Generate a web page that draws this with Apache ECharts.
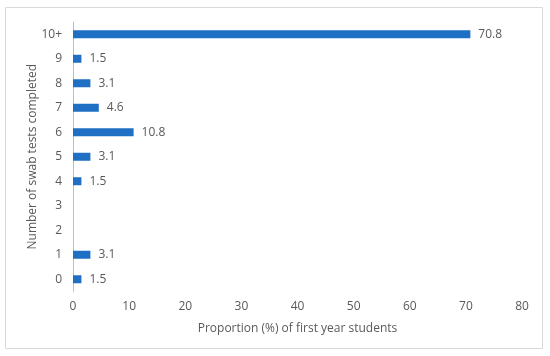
<!DOCTYPE html>
<html><head><meta charset="utf-8">
<script src="https://cdn.jsdelivr.net/npm/echarts@6/dist/echarts.min.js"></script>
<style>html,body{margin:0;padding:0;background:#fff}#c{width:550px;height:356px}</style>
</head><body><div id="c"></div>
<script>
const categories = ['0','1','2','3','4','5','6','7','8','9','10+'];
const values = [1.5, 3.1, null, null, 1.5, 3.1, 10.8, 4.6, 3.1, 1.5, 70.8];
const xTicks = {min: 0, max: 80, interval: 10};
const xTitle = 'Proportion (%) of first year students';
const yTitle = 'Number of swab tests completed';

const FONT = '"Open Sans", "Liberation Sans", sans-serif';
const chart = echarts.init(document.getElementById('c'), null, {renderer: 'canvas'});
chart.setOption({
  animation: false,
  backgroundColor: '#fff',
  graphic: [{
    type: 'rect', shape: {x: 5.5, y: 7.5, width: 537, height: 341},
    style: {fill: 'none', stroke: '#d9d9d9', lineWidth: 1}, silent: true
  }],
  grid: {left: 73, right: 28, top: 22, bottom: 64.5, containLabel: false},
  xAxis: {
    type: 'value', min: xTicks.min, max: xTicks.max, interval: xTicks.interval,
    axisLine: {show: false}, axisTick: {show: false}, splitLine: {show: false},
    axisLabel: {color: '#595959', fontFamily: FONT, fontSize: 12, margin: 9},
    name: xTitle, nameLocation: 'middle', nameGap: 31, nameMoveOverlap: false,
    nameTextStyle: {color: '#595959', fontFamily: FONT, fontSize: 12}
  },
  yAxis: {
    type: 'category', data: categories,
    axisLine: {show: true, lineStyle: {color: '#bfbfbf', width: 1}},
    axisTick: {show: false},
    axisLabel: {color: '#595959', fontFamily: FONT, fontSize: 12, margin: 11},
    name: yTitle, nameLocation: 'middle', nameGap: 34, nameMoveOverlap: false,
    nameTextStyle: {color: '#595959', fontFamily: FONT, fontSize: 12}
  },
  series: [{
    type: 'bar', data: values, barWidth: 8,
    itemStyle: {color: '#1f6fc5'},
    label: {show: true, position: 'right', distance: 8, color: '#595959',
      fontFamily: FONT, fontSize: 12,
      formatter: p => (p.value == null ? '' : p.value.toFixed(1))}
  }]
});
</script></body></html>
